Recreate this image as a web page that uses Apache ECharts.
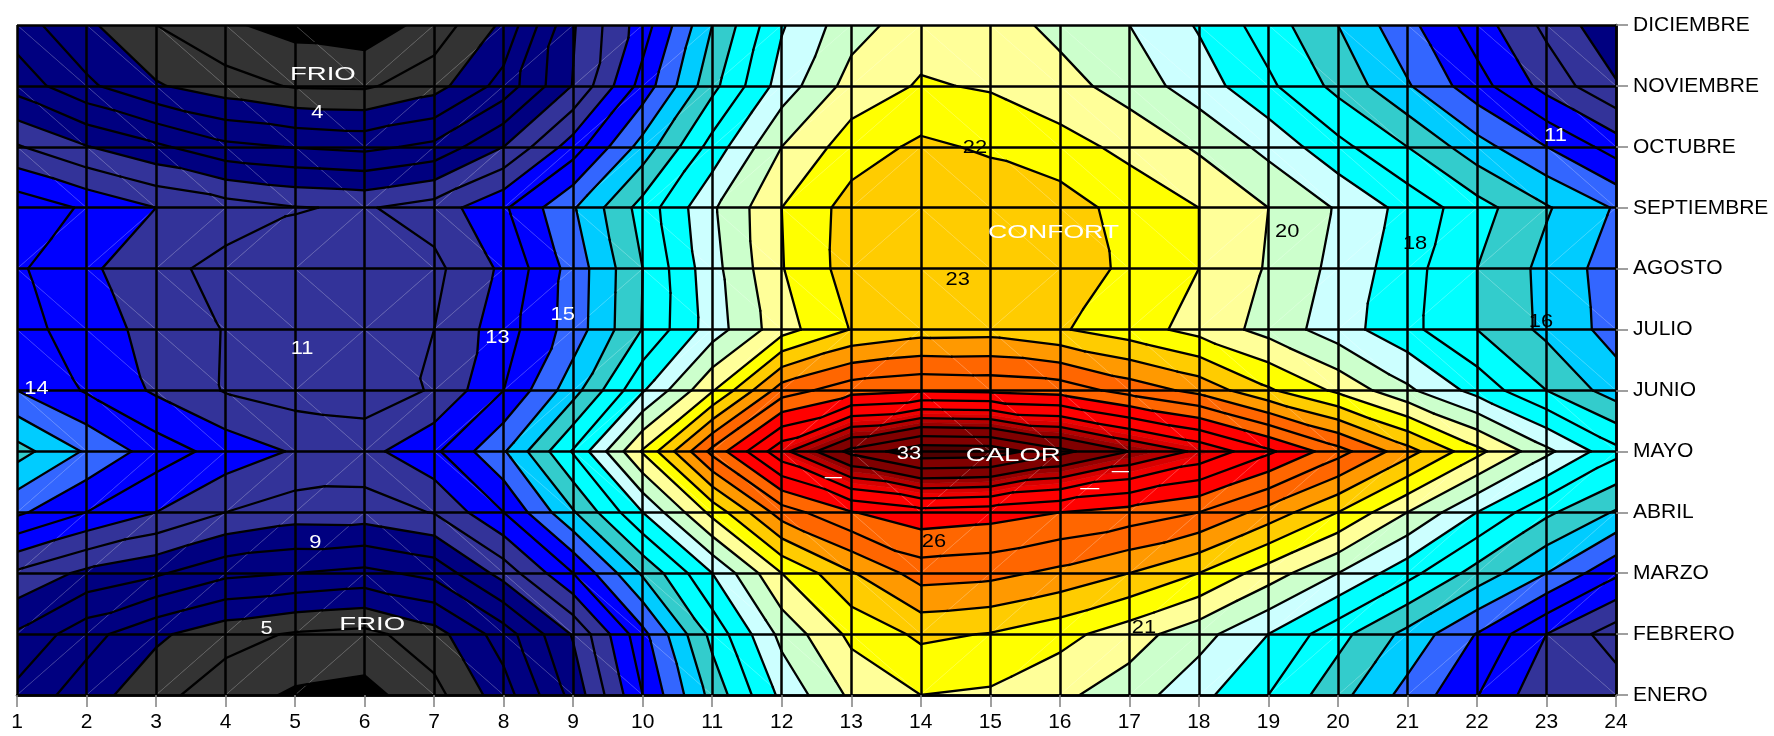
<!DOCTYPE html>
<html><head><meta charset="utf-8">
<style>html,body{margin:0;padding:0;background:#fff}#c{width:1774px;height:736px}</style>
<script src="https://cdn.jsdelivr.net/npm/echarts@6/dist/echarts.min.js"></script>
</head><body><div id="c"></div>
<script>
var hours=[1,2,3,4,5,6,7,8,9,10,11,12,13,14,15,16,17,18,19,20,21,22,23,24];
var months=['ENERO','FEBRERO','MARZO','ABRIL','MAYO','JUNIO','JULIO','AGOSTO','SEPTIEMBRE','OCTUBRE','NOVIEMBRE','DICIEMBRE'];
var enero=[6.7,5.47,4.3,3.47,2.85,2.67,3.67,5.55,8.35,12,15.35,18.25,20.2,21,20.85,20.2,19.5,18.3,17,15.35,13.65,12.05,10.25,10.6];
var febrero=[7.86,6.38,5.2,4.35,3.9,3.7,4.6,6.5,9.1,12.7,16.3,19.3,21.25,22.2,21.95,21.35,20.45,19.4,18,16.35,14.7,12.95,11,9.45];
var marzo=[9.82,8.75,8.15,7.25,7,6.73,7.3,9.4,12,15.15,18,21,22.9,24.45,24.3,23.75,23,22,20.5,19,17.35,15.6,14,12.2];
var abril=[13.2,12,11,10,9.5,9.53,10.05,12,14.9,18,21.3,24.5,25.95,26.6,26.4,26,25.6,25,23.6,22,20,18,16.2,14.9];
var mayo=[15.4,13.87,12.53,11.6,10.9,10.67,11.8,13.9,17.1,21.1,25.3,28.7,31.3,32.7,32.6,31.3,30,28.8,27.2,25.4,23.4,21.3,19.25,17.3];
var junio=[13,11.9,10.85,9.93,9.55,9.42,10.1,12,14.6,17.9,20.9,24.5,25.6,25.9,25.8,25.6,24.6,23.7,22.15,20.8,19.2,17.65,16,14.5];
var julio=[12.4,11.5,10.65,9.95,9.5,9.6,10,11.55,13.45,16.05,18.5,20.6,22.05,22.55,22.6,22.1,21.45,20.65,19.65,18.45,17.3,16,14.75,13.6];
var agosto=[12.15,11.2,10.3,9.7,9.6,9.6,9.75,11.2,13.4,16,18.65,20.95,22.45,22.6,22.7,22.55,21.8,21,19.9,18.7,17.4,16,14.7,13.5];
var septiembre=[12.7,11.85,11,10.5,10.05,9.9,10.45,11.85,13.9,16.4,18.85,21,22.4,22.6,22.7,22.5,21.6,21,20,18.9,17.65,16.4,15.1,13.9];
var octubre=[10.1,9.05,8.2,7.25,6.95,6.75,7.25,9,11.5,14.4,17.4,20,21.5,22.2,21.85,21.36,20.75,19.85,18.7,17.3,16,14.4,13,11.55];
var noviembre=[7.6,6.2,5.1,4.43,3.9,3.85,4.6,6.4,9.05,12.4,15.7,18.45,20.4,21.1,20.9,20.4,19.55,18.5,17.2,15.7,14.1,12.4,10.65,9.1];
var diciembre=[6.46,5.2,4,3.15,2.64,2.4,3.4,5.2,8.9,11.5,15,17.9,19.6,20.55,20.5,19.7,19,17.9,16.5,15,13.3,11.5,9.75,8.2];
var contourLevels=[3,4,5,6,7,8,9,10,11,12,13,14,15,16,17,18,19,20,21,22,23,24,25,26,27,28,29,30,31,32];
var bandLimits=[-1,3,5,9,11,13,14,15,16,18,19,20,21,22,23,24,26,28,28.5,29,29.5,30,32,40];
var bandColors=['#000000','#333333','#000080','#333399','#0000FF','#3366FF','#00CCFF','#33CCCC','#00FFFF','#CCFFFF','#CCFFCC','#FFFF99','#FFFF00','#FFCC00','#FF9900','#FF6600','#FF0000','#F00000','#D80000','#B80000','#980000','#800000','#500000'];
var notes=[
 [5.40,10.21,'FRIO','#fff',1.45],[5.32,9.58,'4','#fff',1.15],[5.10,5.71,'11','#fff',1.15],[7.91,5.89,'13','#fff',1.15],
 [8.85,6.27,'15','#fff',1.15],[1.28,5.06,'14','#fff',1.15],[5.29,2.53,'9','#fff',1.15],[4.59,1.12,'5','#fff',1.15],
 [6.11,1.17,'FRIO','#fff',1.45],[14.78,9.01,'22','#000',1.15],[15.91,7.62,'CONFORT','#fff',1.4],[14.53,6.85,'23','#000',1.15],
 [23.13,9.21,'11','#fff',1.15],[19.27,7.63,'20','#000',1.15],[21.11,7.44,'18','#000',1.15],[22.92,6.16,'16','#000',1.15],
 [13.83,3.99,'33','#fff',1.15],[15.33,3.96,'CALOR','#fff',1.45],[14.19,2.54,'26','#000',1.15],[17.21,1.13,'21','#000',1.15],
 [12.74,3.61,'—','#fff',0.9],[16.87,3.71,'—','#fff',0.9],[16.43,3.43,'—','#fff',1]
];

var grid=[enero,febrero,marzo,abril,mayo,junio,julio,agosto,septiembre,octubre,noviembre,diciembre];
var tris=[],diags=[];
for(var r=0;r<grid.length-1;r++){
  for(var c=0;c<hours.length-1;c++){
    var bl=[hours[c],r,grid[r][c]],br=[hours[c+1],r,grid[r][c+1]];
    var tl=[hours[c],r+1,grid[r+1][c]],tr=[hours[c+1],r+1,grid[r+1][c+1]];
    if(Math.abs(tl[2]-br[2])<=Math.abs(tr[2]-bl[2])){
      tris.push([tl,br,tr],[tl,br,bl]);diags.push([tl,br]);
    }else{
      tris.push([tr,bl,tl],[tr,bl,br]);diags.push([tr,bl]);
    }
  }
}
function clipAbove(poly,lv,keepAbove){
  var out=[];
  for(var i=0;i<poly.length;i++){
    var a=poly[i],b=poly[(i+1)%poly.length];
    var ia=keepAbove?a[2]>=lv:a[2]<=lv, ib=keepAbove?b[2]>=lv:b[2]<=lv;
    if(ia)out.push(a);
    if(ia!==ib){var t=(lv-a[2])/(b[2]-a[2]);out.push([a[0]+t*(b[0]-a[0]),a[1]+t*(b[1]-a[1]),lv]);}
  }
  return out;
}
var fills=[],segs=[];
tris.forEach(function(t){
  for(var i=0;i<bandColors.length;i++){
    var p=clipAbove(clipAbove(t,bandLimits[i],true),bandLimits[i+1],false);
    if(p.length>=3)fills.push({p:p,color:bandColors[i]});
  }
  contourLevels.forEach(function(lv){
    var pts=[];
    for(var i=0;i<3;i++){
      var a=t[i],b=t[(i+1)%3];
      if((a[2]<lv)!==(b[2]<lv)){var k=(lv-a[2])/(b[2]-a[2]);pts.push([a[0]+k*(b[0]-a[0]),a[1]+k*(b[1]-a[1])]);}
    }
    if(pts.length===2)segs.push(pts);
  });
});
function idx(a){return a.map(function(_,i){return [i];});}
var chart=echarts.init(document.getElementById('c'),null,{renderer:'canvas'});
var labelFont='"Liberation Sans",Arial,sans-serif';
chart.setOption({
  animation:false,backgroundColor:'#fff',
  grid:{left:17,right:158,top:25,bottom:41,containLabel:false},
  xAxis:{type:'value',min:1,max:24,interval:1,z:20,
    axisLine:{show:true,onZero:false,lineStyle:{color:'#000',width:2.5}},
    axisTick:{show:true,length:12,lineStyle:{color:'#808080',width:1.5}},
    axisLabel:{color:'#000',fontSize:21,fontFamily:labelFont,margin:17,hideOverlap:false,showMinLabel:true,showMaxLabel:true},
    splitLine:{show:true,lineStyle:{color:'#000',width:2.5}}},
  yAxis:{type:'value',min:0,max:11,interval:1,position:'right',z:20,
    axisLine:{show:true,onZero:false,lineStyle:{color:'#000',width:2.5}},
    axisTick:{show:true,length:12,lineStyle:{color:'#808080',width:1.5}},
    axisLabel:{color:'#000',fontSize:21,fontFamily:labelFont,margin:17,showMinLabel:true,showMaxLabel:true,
      formatter:function(v){return months[v];}},
    splitLine:{show:true,lineStyle:{color:'#000',width:2.5}}},
  series:[
   {type:'custom',coordinateSystem:'cartesian2d',z:2,silent:true,clip:true,data:idx(fills),encode:{x:[],y:[]},
    renderItem:function(p,api){var f=fills[api.value(0)];
      return {type:'polygon',shape:{points:f.p.map(function(q){return api.coord([q[0],q[1]]);})},
        style:{fill:f.color,stroke:f.color,lineWidth:0.6}};}},
   {type:'custom',coordinateSystem:'cartesian2d',z:3,silent:true,clip:true,data:idx(diags),encode:{x:[],y:[]},
    renderItem:function(p,api){var d=diags[api.value(0)],a=api.coord([d[0][0],d[0][1]]),b=api.coord([d[1][0],d[1][1]]);
      return {type:'line',shape:{x1:a[0],y1:a[1],x2:b[0],y2:b[1]},style:{stroke:'rgba(255,255,255,0.3)',lineWidth:0.7}};}},
   {type:'custom',coordinateSystem:'cartesian2d',z:4,silent:true,clip:true,data:idx(segs),encode:{x:[],y:[]},
    renderItem:function(p,api){var s=segs[api.value(0)],a=api.coord(s[0]),b=api.coord(s[1]);
      return {type:'line',shape:{x1:a[0],y1:a[1],x2:b[0],y2:b[1]},style:{stroke:'#000',lineWidth:2.3,lineCap:'round'}};}},
   {type:'custom',coordinateSystem:'cartesian2d',z:30,silent:true,clip:false,data:idx(notes),encode:{x:[],y:[]},
    renderItem:function(p,api){var n=notes[api.value(0)],a=api.coord([n[0],n[1]]);
      return {type:'text',x:a[0],y:a[1]+1.5,scaleX:n[4],z2:50,
        style:{text:n[2],fill:n[3],font:'19px '+labelFont,align:'center',verticalAlign:'middle'}};}}
  ]
});
</script></body></html>
